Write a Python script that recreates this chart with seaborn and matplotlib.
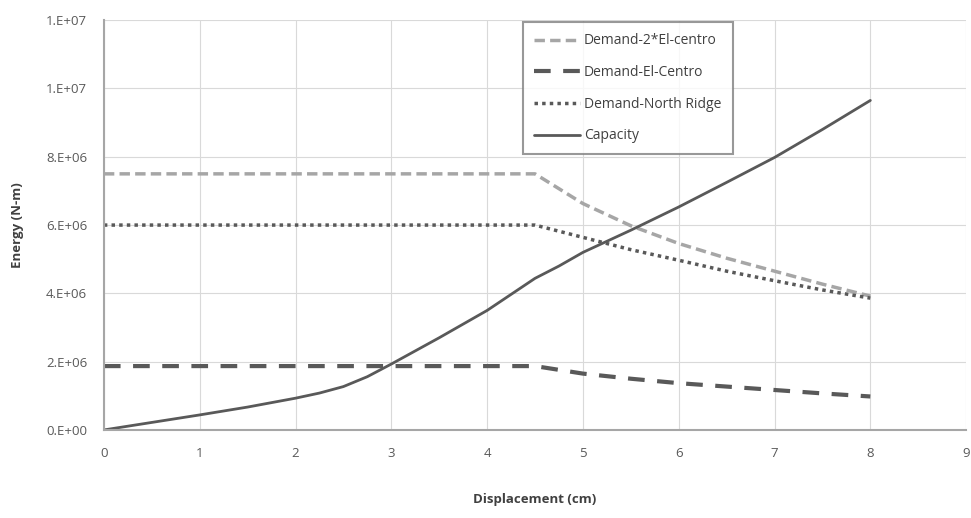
import numpy as np
import pandas as pd
import seaborn as sns
import matplotlib
matplotlib.use("Agg")
import matplotlib.pyplot as plt
from matplotlib.ticker import FuncFormatter

# displacement (cm) and energy (N-m)
demand_x = [0, 4.5, 5, 5.5, 6, 6.5, 7, 7.5, 8]
demand_2elcentro = [7.5e6, 7.5e6, 6.63e6, 5.98e6, 5.46e6, 5.03e6, 4.65e6, 4.27e6, 3.92e6]
demand_elcentro = [1.87e6, 1.87e6, 1.65e6, 1.5e6, 1.37e6, 1.27e6, 1.17e6, 1.07e6, 0.98e6]
demand_northridge = [6.0e6, 6.0e6, 5.64e6, 5.28e6, 4.97e6, 4.65e6, 4.37e6, 4.1e6, 3.86e6]

capacity_x = [0, 0.5, 1, 1.5, 2, 2.25, 2.5, 2.75, 3, 3.5, 4, 4.25, 4.5, 4.75, 5, 5.5, 6, 6.5, 7, 7.5, 8]
capacity = [0, 0.22e6, 0.44e6, 0.67e6, 0.93e6, 1.08e6, 1.27e6, 1.56e6, 1.93e6, 2.7e6, 3.5e6,
            3.97e6, 4.44e6, 4.8e6, 5.2e6, 5.85e6, 6.53e6, 7.25e6, 7.98e6, 8.8e6, 9.65e6]

sns.set_style("whitegrid", {"grid.color": "#d9d9d9", "grid.linestyle": "-"})
plt.rcParams['font.family'] = ['Open Sans', 'DejaVu Sans']

fig = plt.figure(figsize=(9.71, 5.18), dpi=100)
ax = fig.add_axes([0.107, 0.170, 0.888, 0.791])

sns.lineplot(x=demand_x, y=demand_2elcentro, ax=ax, color="#a6a6a6", lw=2.5,
             linestyle=(0, (3, 1.5)), label="Demand-2*El-centro")
sns.lineplot(x=demand_x, y=demand_elcentro, ax=ax, color="#595959", lw=3,
             linestyle=(0, (4, 3)), label="Demand-El-Centro")
sns.lineplot(x=demand_x, y=demand_northridge, ax=ax, color="#595959", lw=2.5,
             linestyle=(0, (1, 1.2)), label="Demand-North Ridge")
sns.lineplot(x=capacity_x, y=capacity, ax=ax, color="#595959", lw=2,
             label="Capacity")

ax.set_xlim(0, 9)
ax.set_ylim(0, 12e6)
ax.set_xticks(range(0, 10))
ax.set_yticks(np.arange(0, 12.1e6, 2e6))
ax.yaxis.set_major_formatter(FuncFormatter(lambda v, p: "{:#.0E}".format(v)))
ax.tick_params(axis="both", labelsize=9.5, colors="#595959", length=0, pad=12)
ax.set_xlabel("Displacement (cm)", fontsize=9.5, fontweight="bold", color="#404040", labelpad=24)
ax.set_ylabel("Energy (N-m)", fontsize=9.5, fontweight="bold", color="#404040", labelpad=16)

for side in ["top", "right"]:
    ax.spines[side].set_visible(False)
for side in ["left", "bottom"]:
    ax.spines[side].set_visible(True)
    ax.spines[side].set_color("#a6a6a6")
    ax.spines[side].set_linewidth(1.5)

leg = ax.legend(loc="upper left", bbox_to_anchor=(0.486, 0.995), fontsize=10,
                frameon=True, fancybox=False, handlelength=3.3, handletextpad=0.3,
                labelspacing=1.2, borderpad=0.8, borderaxespad=0)
leg.get_frame().set_edgecolor("#7f7f7f")
leg.get_frame().set_linewidth(1.5)
for t in leg.get_texts():
    t.set_color("#404040")

fig.savefig("out.png", dpi=100)
